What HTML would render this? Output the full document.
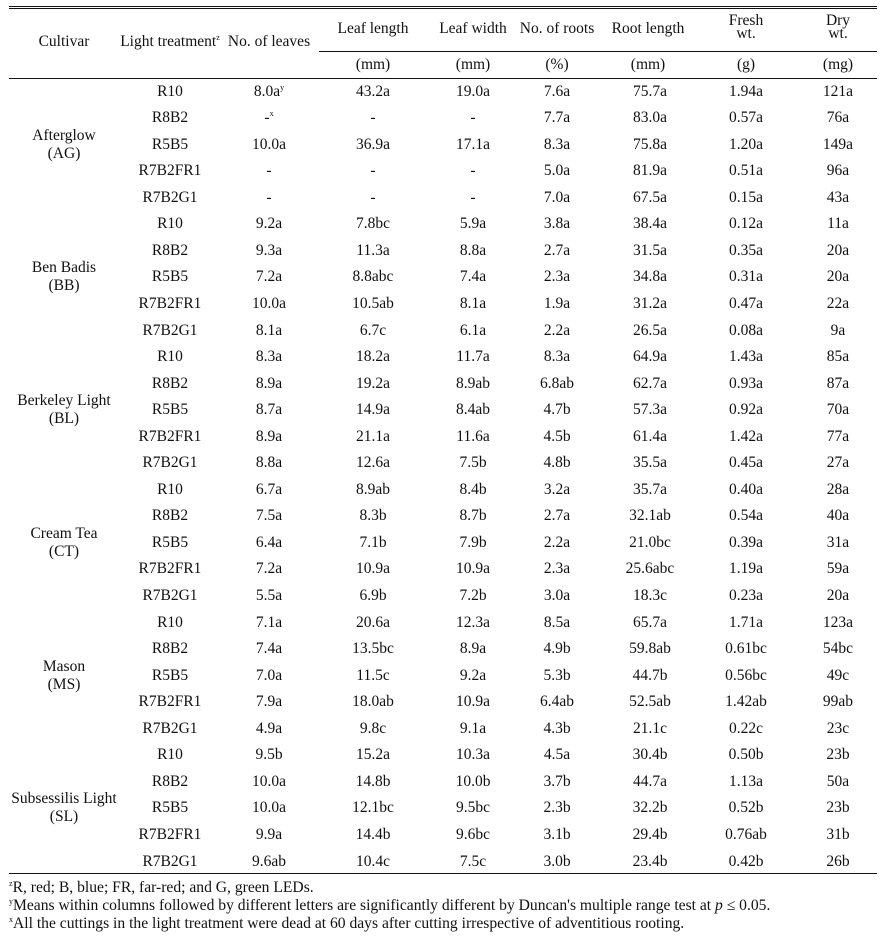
<!DOCTYPE html>
<html><head><meta charset="utf-8">
<style>
html,body{margin:0;padding:0;background:#fff;}
#c{position:relative;width:889px;height:937px;overflow:hidden;font-family:"Liberation Serif","Times New Roman",serif;font-size:15.5px;color:#111;}
.t{position:absolute;width:140px;text-align:center;white-space:nowrap;line-height:18px;height:18px;}
.l{position:absolute;background:#111;height:1px;}
sup{font-size:8px;line-height:0;vertical-align:6px;}
.fn{position:absolute;left:9px;font-size:15.6px;white-space:nowrap;line-height:18px;}
.fn sup{font-size:8px;vertical-align:6px;}
</style></head><body><div id="c">
<div class="l" style="left:9px;width:868px;top:6px;"></div>
<div class="l" style="left:9px;width:868px;top:8px;"></div>
<div class="l" style="left:319px;width:558px;top:51px;"></div>
<div class="l" style="left:9px;width:868px;top:78px;"></div>
<div class="l" style="left:9px;width:868px;top:873px;"></div>

<div class="t" style="left:-6px;top:33px;">Cultivar</div>
<div class="t" style="left:100px;top:33px;">Light treatment<sup>z</sup></div>
<div class="t" style="left:199px;top:33px;">No. of leaves</div>
<div class="t" style="left:303px;top:20px;">Leaf length</div>
<div class="t" style="left:403px;top:20px;">Leaf width</div>
<div class="t" style="left:487px;top:20px;">No. of roots</div>
<div class="t" style="left:578px;top:20px;">Root length</div>
<div class="t" style="left:676px;top:12px;">Fresh</div>
<div class="t" style="left:676px;top:25px;">wt.</div>
<div class="t" style="left:768px;top:12px;">Dry</div>
<div class="t" style="left:768px;top:25px;">wt.</div>
<div class="t" style="left:303px;top:56px;">(mm)</div>
<div class="t" style="left:403px;top:56px;">(mm)</div>
<div class="t" style="left:487px;top:56px;">(%)</div>
<div class="t" style="left:578px;top:56px;">(mm)</div>
<div class="t" style="left:676px;top:56px;">(g)</div>
<div class="t" style="left:768px;top:56px;">(mg)</div>

<div id="rows"></div>

<div class="fn" style="top:879px;"><sup>z</sup>R, red; B, blue; FR, far-red; and G, green LEDs.</div>
<div class="fn" style="top:897px;"><sup>y</sup>Means within columns followed by different letters are significantly different by Duncan's multiple range test at <i>p</i> ≤ 0.05.</div>
<div class="fn" style="top:915px;"><sup>x</sup>All the cuttings in the light treatment were dead at 60 days after cutting irrespective of adventitious rooting.</div>
</div>
<script>
var groups=[
["Afterglow","(AG)",[
["R10","8.0a<sup>y</sup>","43.2a","19.0a","7.6a","75.7a","1.94a","121a"],
["R8B2","-<sup>x</sup>","-","-","7.7a","83.0a","0.57a","76a"],
["R5B5","10.0a","36.9a","17.1a","8.3a","75.8a","1.20a","149a"],
["R7B2FR1","-","-","-","5.0a","81.9a","0.51a","96a"],
["R7B2G1","-","-","-","7.0a","67.5a","0.15a","43a"]]],
["Ben Badis","(BB)",[
["R10","9.2a","7.8bc","5.9a","3.8a","38.4a","0.12a","11a"],
["R8B2","9.3a","11.3a","8.8a","2.7a","31.5a","0.35a","20a"],
["R5B5","7.2a","8.8abc","7.4a","2.3a","34.8a","0.31a","20a"],
["R7B2FR1","10.0a","10.5ab","8.1a","1.9a","31.2a","0.47a","22a"],
["R7B2G1","8.1a","6.7c","6.1a","2.2a","26.5a","0.08a","9a"]]],
["Berkeley Light","(BL)",[
["R10","8.3a","18.2a","11.7a","8.3a","64.9a","1.43a","85a"],
["R8B2","8.9a","19.2a","8.9ab","6.8ab","62.7a","0.93a","87a"],
["R5B5","8.7a","14.9a","8.4ab","4.7b","57.3a","0.92a","70a"],
["R7B2FR1","8.9a","21.1a","11.6a","4.5b","61.4a","1.42a","77a"],
["R7B2G1","8.8a","12.6a","7.5b","4.8b","35.5a","0.45a","27a"]]],
["Cream Tea","(CT)",[
["R10","6.7a","8.9ab","8.4b","3.2a","35.7a","0.40a","28a"],
["R8B2","7.5a","8.3b","8.7b","2.7a","32.1ab","0.54a","40a"],
["R5B5","6.4a","7.1b","7.9b","2.2a","21.0bc","0.39a","31a"],
["R7B2FR1","7.2a","10.9a","10.9a","2.3a","25.6abc","1.19a","59a"],
["R7B2G1","5.5a","6.9b","7.2b","3.0a","18.3c","0.23a","20a"]]],
["Mason","(MS)",[
["R10","7.1a","20.6a","12.3a","8.5a","65.7a","1.71a","123a"],
["R8B2","7.4a","13.5bc","8.9a","4.9b","59.8ab","0.61bc","54bc"],
["R5B5","7.0a","11.5c","9.2a","5.3b","44.7b","0.56bc","49c"],
["R7B2FR1","7.9a","18.0ab","10.9a","6.4ab","52.5ab","1.42ab","99ab"],
["R7B2G1","4.9a","9.8c","9.1a","4.3b","21.1c","0.22c","23c"]]],
["Subsessilis Light","(SL)",[
["R10","9.5b","15.2a","10.3a","4.5a","30.4b","0.50b","23b"],
["R8B2","10.0a","14.8b","10.0b","3.7b","44.7a","1.13a","50a"],
["R5B5","10.0a","12.1bc","9.5bc","2.3b","32.2b","0.52b","23b"],
["R7B2FR1","9.9a","14.4b","9.6bc","3.1b","29.4b","0.76ab","31b"],
["R7B2G1","9.6ab","10.4c","7.5c","3.0b","23.4b","0.42b","26b"]]]
];
var cx=[170,269,373,473,557,650,746,838];
var h="";var r=0;
for(var g=0;g<groups.length;g++){
 var G=groups[g];
 var cy=91.5+(r+2)*26.55;
 h+='<div class="t" style="left:-6px;top:'+(cy-18).toFixed(1)+'px;">'+G[0]+'</div>';
 h+='<div class="t" style="left:-6px;top:'+(cy).toFixed(1)+'px;">'+G[1]+'</div>';
 for(var i=0;i<5;i++){
  var y=91.5+r*26.55-9;
  var row=G[2][i];
  for(var k=0;k<8;k++){
   h+='<div class="t" style="left:'+(cx[k]-70)+'px;top:'+y.toFixed(1)+'px;">'+row[k]+'</div>';
  }
  r++;
 }
}
document.getElementById("rows").innerHTML=h;
</script>
</body></html>
